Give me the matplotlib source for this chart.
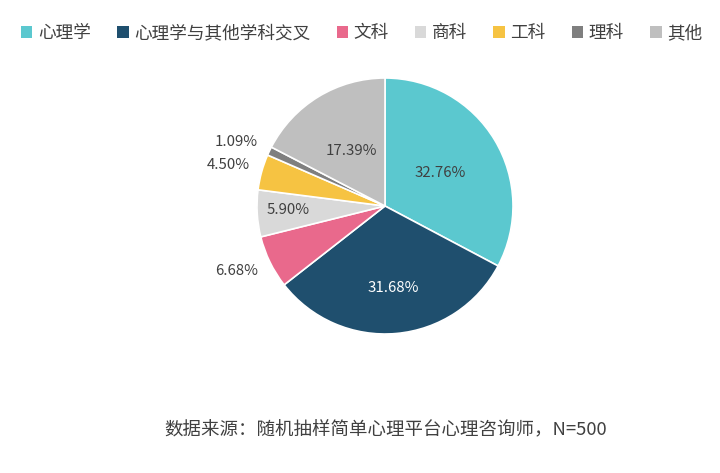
import numpy as np
import matplotlib
matplotlib.use("Agg")
import matplotlib.pyplot as plt
from matplotlib.patches import Patch

plt.rcParams['font.family'] = ['Noto Sans CJK SC', 'DejaVu Sans']

# data
categories = ['心理学', '心理学与其他学科交叉', '文科', '商科', '工科', '理科', '其他']
shares = [32.76, 31.68, 6.68, 5.90, 4.50, 1.09, 17.39]
colors = ['#5BC8CF', '#1F4F6E', '#E9698C', '#D9D9D9', '#F6C342', '#7F7F7F', '#BFBFBF']
source_note = '数据来源：随机抽样简单心理平台心理咨询师，N=500'

# label placement: (distance from centre in radii, angle nudge in degrees)
label_place = [(0.50, 0), (0.64, 0.6), (1.263, -2.3), (0.76, -1), (1.268, 0.8), (1.267, 2.2), (0.505, 0.4)]
label_colors = ['#404040', 'white', '#404040', '#404040', '#404040', '#404040', '#404040']

W, H = 720, 473
fig = plt.figure(figsize=(W / 100, H / 100), dpi=100)
fig.patch.set_facecolor('white')

# pie: centre (385, 206) px, radius 128 px
cx, cy, r = 385, H - 206, 128
lim = 1.6
side = r * lim * 2
ax = fig.add_axes([(cx - side / 2) / W, (cy - side / 2) / H, side / W, side / H])
wedges, _ = ax.pie(shares, colors=colors, startangle=90, counterclock=False,
                   radius=1, wedgeprops=dict(edgecolor='white', linewidth=1.2))
ax.set_xlim(-lim, lim)
ax.set_ylim(-lim, lim)
ax.set_aspect('equal')
ax.axis('off')

for w, v, (d, nudge), c in zip(wedges, shares, label_place, label_colors):
    ang = np.deg2rad((w.theta1 + w.theta2) / 2 + nudge)
    ax.text(d * np.cos(ang), d * np.sin(ang), f'{v:.2f}%', ha='center', va='center',
            fontsize=10.8, color=c)

handles = [Patch(facecolor=c, edgecolor='none') for c in colors]
fig.legend(handles, categories, loc='center left', bbox_to_anchor=(21 / W, 1 - 33 / H),
           ncol=7, frameon=False, fontsize=12.7, handlelength=0.65, handleheight=0.65,
           handletextpad=0.3, columnspacing=1.5, borderpad=0, borderaxespad=0,
           labelcolor='#404040')

fig.text(386 / W, 1 - 430 / H, source_note, ha='center', va='center',
         fontsize=13.3, color='#404040')

fig.savefig('out.png', dpi=100, facecolor='white')
